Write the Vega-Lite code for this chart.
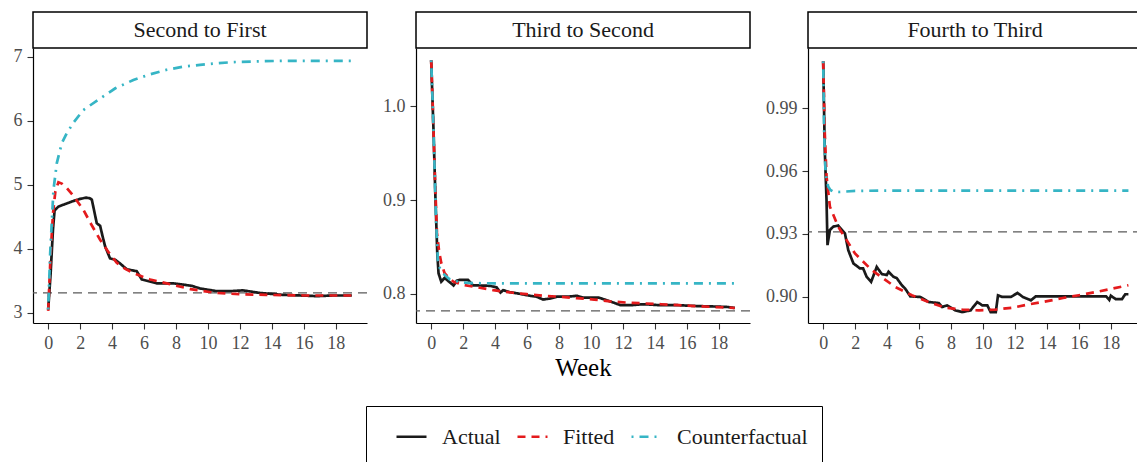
{
"$schema": "https://vega.github.io/schema/vega-lite/v6.json",
"padding": {"left": 13, "top": 11, "right": 0, "bottom": 0},
"config": {
  "font": "Liberation Serif",
  "view": {"stroke": null},
  "axis": {"grid": false, "domainColor": "black", "domainWidth": 1.2, "tickColor": "#333333", "tickSize": 6, "tickWidth": 1.1, "labelColor": "#4d4d4d", "labelFont": "Liberation Serif", "labelFontSize": 18, "labelPadding": 5, "titleFont": "Liberation Serif", "titleFontSize": 25, "titleColor": "black", "titleFontWeight": "normal", "titlePadding": 3},
  "legend": {"strokeColor": "black", "padding": 14, "labelFont": "Liberation Serif", "labelFontSize": 22, "labelColor": "#1a1a1a", "symbolType": "stroke", "symbolStrokeWidth": 2.5, "symbolSize": 900, "symbolOffset": 15, "columnPadding": 0, "labelOffset": 14},
  "concat": {"spacing": 14}
},
"datasets": {
  "strips": [{"panel": "Second to First"}, {"panel": "Third to Second"}, {"panel": "Fourth to Third"}],
  "hlines": [{"panel": "Second to First", "value": 3.31}, {"panel": "Third to Second", "value": 0.782}, {"panel": "Fourth to Third", "value": 0.931}],
  "lines": [
{"panel":"Second to First","series":"Actual","week":0,"value":3.05},
{"panel":"Second to First","series":"Actual","week":0.15,"value":3.6},
{"panel":"Second to First","series":"Actual","week":0.3,"value":4.3},
{"panel":"Second to First","series":"Actual","week":0.4,"value":4.6},
{"panel":"Second to First","series":"Actual","week":0.64,"value":4.66},
{"panel":"Second to First","series":"Actual","week":1.17,"value":4.71},
{"panel":"Second to First","series":"Actual","week":1.6,"value":4.75},
{"panel":"Second to First","series":"Actual","week":2.0,"value":4.78},
{"panel":"Second to First","series":"Actual","week":2.37,"value":4.8},
{"panel":"Second to First","series":"Actual","week":2.6,"value":4.79},
{"panel":"Second to First","series":"Actual","week":2.73,"value":4.77},
{"panel":"Second to First","series":"Actual","week":3.04,"value":4.4},
{"panel":"Second to First","series":"Actual","week":3.25,"value":4.36},
{"panel":"Second to First","series":"Actual","week":3.4,"value":4.2},
{"panel":"Second to First","series":"Actual","week":3.56,"value":4.04},
{"panel":"Second to First","series":"Actual","week":3.87,"value":3.85},
{"panel":"Second to First","series":"Actual","week":4.19,"value":3.83},
{"panel":"Second to First","series":"Actual","week":4.5,"value":3.77},
{"panel":"Second to First","series":"Actual","week":4.92,"value":3.68},
{"panel":"Second to First","series":"Actual","week":5.54,"value":3.65},
{"panel":"Second to First","series":"Actual","week":5.86,"value":3.52},
{"panel":"Second to First","series":"Actual","week":6.17,"value":3.5},
{"panel":"Second to First","series":"Actual","week":6.79,"value":3.46},
{"panel":"Second to First","series":"Actual","week":7.83,"value":3.46},
{"panel":"Second to First","series":"Actual","week":8.46,"value":3.44},
{"panel":"Second to First","series":"Actual","week":9.0,"value":3.42},
{"panel":"Second to First","series":"Actual","week":9.5,"value":3.38},
{"panel":"Second to First","series":"Actual","week":10.5,"value":3.34},
{"panel":"Second to First","series":"Actual","week":11.5,"value":3.34},
{"panel":"Second to First","series":"Actual","week":12.2,"value":3.35},
{"panel":"Second to First","series":"Actual","week":13.25,"value":3.31},
{"panel":"Second to First","series":"Actual","week":14.7,"value":3.28},
{"panel":"Second to First","series":"Actual","week":15.8,"value":3.27},
{"panel":"Second to First","series":"Actual","week":16.8,"value":3.26},
{"panel":"Second to First","series":"Actual","week":17.8,"value":3.27},
{"panel":"Second to First","series":"Actual","week":19,"value":3.27},
{"panel":"Second to First","series":"Fitted","week":0,"value":3.03},
{"panel":"Second to First","series":"Fitted","week":0.15,"value":3.9},
{"panel":"Second to First","series":"Fitted","week":0.3,"value":4.55},
{"panel":"Second to First","series":"Fitted","week":0.45,"value":4.9},
{"panel":"Second to First","series":"Fitted","week":0.64,"value":5.04},
{"panel":"Second to First","series":"Fitted","week":0.85,"value":5.02},
{"panel":"Second to First","series":"Fitted","week":1.17,"value":4.95},
{"panel":"Second to First","series":"Fitted","week":1.6,"value":4.82},
{"panel":"Second to First","series":"Fitted","week":2.2,"value":4.61},
{"panel":"Second to First","series":"Fitted","week":2.7,"value":4.38},
{"panel":"Second to First","series":"Fitted","week":3.25,"value":4.14},
{"panel":"Second to First","series":"Fitted","week":3.8,"value":3.94},
{"panel":"Second to First","series":"Fitted","week":4.29,"value":3.78},
{"panel":"Second to First","series":"Fitted","week":4.8,"value":3.69},
{"panel":"Second to First","series":"Fitted","week":5.33,"value":3.62},
{"panel":"Second to First","series":"Fitted","week":6.375,"value":3.52},
{"panel":"Second to First","series":"Fitted","week":7.42,"value":3.46},
{"panel":"Second to First","series":"Fitted","week":8.9,"value":3.37},
{"panel":"Second to First","series":"Fitted","week":10.5,"value":3.31},
{"panel":"Second to First","series":"Fitted","week":12,"value":3.29},
{"panel":"Second to First","series":"Fitted","week":13.6,"value":3.28},
{"panel":"Second to First","series":"Fitted","week":16,"value":3.27},
{"panel":"Second to First","series":"Fitted","week":19,"value":3.27},
{"panel":"Second to First","series":"Counterfactual","week":0,"value":3.05},
{"panel":"Second to First","series":"Counterfactual","week":0.125,"value":3.93},
{"panel":"Second to First","series":"Counterfactual","week":0.33,"value":4.92},
{"panel":"Second to First","series":"Counterfactual","week":0.54,"value":5.34},
{"panel":"Second to First","series":"Counterfactual","week":0.85,"value":5.65},
{"panel":"Second to First","series":"Counterfactual","week":1.17,"value":5.81},
{"panel":"Second to First","series":"Counterfactual","week":1.6,"value":5.98},
{"panel":"Second to First","series":"Counterfactual","week":2.2,"value":6.17},
{"panel":"Second to First","series":"Counterfactual","week":3.25,"value":6.35},
{"panel":"Second to First","series":"Counterfactual","week":4.2,"value":6.51},
{"panel":"Second to First","series":"Counterfactual","week":5.33,"value":6.64},
{"panel":"Second to First","series":"Counterfactual","week":6.4,"value":6.73},
{"panel":"Second to First","series":"Counterfactual","week":7.42,"value":6.8},
{"panel":"Second to First","series":"Counterfactual","week":8.5,"value":6.85},
{"panel":"Second to First","series":"Counterfactual","week":9.5,"value":6.875},
{"panel":"Second to First","series":"Counterfactual","week":10.5,"value":6.9},
{"panel":"Second to First","series":"Counterfactual","week":11.6,"value":6.92},
{"panel":"Second to First","series":"Counterfactual","week":13,"value":6.93},
{"panel":"Second to First","series":"Counterfactual","week":14.7,"value":6.94},
{"panel":"Second to First","series":"Counterfactual","week":17,"value":6.94},
{"panel":"Second to First","series":"Counterfactual","week":19,"value":6.94},
{"panel":"Third to Second","series":"Actual","week":0,"value":1.049},
{"panel":"Third to Second","series":"Actual","week":0.15,"value":0.972},
{"panel":"Third to Second","series":"Actual","week":0.27,"value":0.9},
{"panel":"Third to Second","series":"Actual","week":0.38,"value":0.844},
{"panel":"Third to Second","series":"Actual","week":0.46,"value":0.822},
{"panel":"Third to Second","series":"Actual","week":0.63,"value":0.813},
{"panel":"Third to Second","series":"Actual","week":0.84,"value":0.817},
{"panel":"Third to Second","series":"Actual","week":1.05,"value":0.814},
{"panel":"Third to Second","series":"Actual","week":1.4,"value":0.809},
{"panel":"Third to Second","series":"Actual","week":1.6,"value":0.814},
{"panel":"Third to Second","series":"Actual","week":1.78,"value":0.815},
{"panel":"Third to Second","series":"Actual","week":2.3,"value":0.815},
{"panel":"Third to Second","series":"Actual","week":2.62,"value":0.809},
{"panel":"Third to Second","series":"Actual","week":3.0,"value":0.809},
{"panel":"Third to Second","series":"Actual","week":3.67,"value":0.8086},
{"panel":"Third to Second","series":"Actual","week":4.09,"value":0.807},
{"panel":"Third to Second","series":"Actual","week":4.34,"value":0.8014},
{"panel":"Third to Second","series":"Actual","week":4.5,"value":0.804},
{"panel":"Third to Second","series":"Actual","week":4.9,"value":0.802},
{"panel":"Third to Second","series":"Actual","week":5.35,"value":0.8007},
{"panel":"Third to Second","series":"Actual","week":6.18,"value":0.798},
{"panel":"Third to Second","series":"Actual","week":6.6,"value":0.797},
{"panel":"Third to Second","series":"Actual","week":7.0,"value":0.794},
{"panel":"Third to Second","series":"Actual","week":7.4,"value":0.795},
{"panel":"Third to Second","series":"Actual","week":7.86,"value":0.797},
{"panel":"Third to Second","series":"Actual","week":8.5,"value":0.797},
{"panel":"Third to Second","series":"Actual","week":9.12,"value":0.798},
{"panel":"Third to Second","series":"Actual","week":9.5,"value":0.796},
{"panel":"Third to Second","series":"Actual","week":10.5,"value":0.796},
{"panel":"Third to Second","series":"Actual","week":11.2,"value":0.792},
{"panel":"Third to Second","series":"Actual","week":11.85,"value":0.788},
{"panel":"Third to Second","series":"Actual","week":12.5,"value":0.788},
{"panel":"Third to Second","series":"Actual","week":13.3,"value":0.789},
{"panel":"Third to Second","series":"Actual","week":14.3,"value":0.788},
{"panel":"Third to Second","series":"Actual","week":15.4,"value":0.788},
{"panel":"Third to Second","series":"Actual","week":16.7,"value":0.787},
{"panel":"Third to Second","series":"Actual","week":17.9,"value":0.7865},
{"panel":"Third to Second","series":"Actual","week":18.6,"value":0.786},
{"panel":"Third to Second","series":"Actual","week":19,"value":0.785},
{"panel":"Third to Second","series":"Fitted","week":0,"value":1.049},
{"panel":"Third to Second","series":"Fitted","week":0.1,"value":1.0},
{"panel":"Third to Second","series":"Fitted","week":0.21,"value":0.936},
{"panel":"Third to Second","series":"Fitted","week":0.36,"value":0.865},
{"panel":"Third to Second","series":"Fitted","week":0.5,"value":0.845},
{"panel":"Third to Second","series":"Fitted","week":0.63,"value":0.833},
{"panel":"Third to Second","series":"Fitted","week":0.84,"value":0.822},
{"panel":"Third to Second","series":"Fitted","week":1.1,"value":0.817},
{"panel":"Third to Second","series":"Fitted","week":1.4,"value":0.813},
{"panel":"Third to Second","series":"Fitted","week":2.0,"value":0.8097},
{"panel":"Third to Second","series":"Fitted","week":2.9,"value":0.807},
{"panel":"Third to Second","series":"Fitted","week":3.88,"value":0.804},
{"panel":"Third to Second","series":"Fitted","week":5.0,"value":0.8015},
{"panel":"Third to Second","series":"Fitted","week":5.97,"value":0.7997},
{"panel":"Third to Second","series":"Fitted","week":7.0,"value":0.798},
{"panel":"Third to Second","series":"Fitted","week":8.07,"value":0.797},
{"panel":"Third to Second","series":"Fitted","week":9.1,"value":0.7955},
{"panel":"Third to Second","series":"Fitted","week":10.2,"value":0.794},
{"panel":"Third to Second","series":"Fitted","week":11.2,"value":0.792},
{"panel":"Third to Second","series":"Fitted","week":12.3,"value":0.7907},
{"panel":"Third to Second","series":"Fitted","week":13.4,"value":0.7898},
{"panel":"Third to Second","series":"Fitted","week":14.4,"value":0.789},
{"panel":"Third to Second","series":"Fitted","week":15.5,"value":0.788},
{"panel":"Third to Second","series":"Fitted","week":16.5,"value":0.787},
{"panel":"Third to Second","series":"Fitted","week":17.8,"value":0.786},
{"panel":"Third to Second","series":"Fitted","week":19,"value":0.785},
{"panel":"Third to Second","series":"Counterfactual","week":0,"value":1.049},
{"panel":"Third to Second","series":"Counterfactual","week":0.1,"value":1.0},
{"panel":"Third to Second","series":"Counterfactual","week":0.21,"value":0.936},
{"panel":"Third to Second","series":"Counterfactual","week":0.3,"value":0.88},
{"panel":"Third to Second","series":"Counterfactual","week":0.42,"value":0.836},
{"panel":"Third to Second","series":"Counterfactual","week":0.55,"value":0.827},
{"panel":"Third to Second","series":"Counterfactual","week":0.73,"value":0.822},
{"panel":"Third to Second","series":"Counterfactual","week":1.15,"value":0.8157},
{"panel":"Third to Second","series":"Counterfactual","week":1.6,"value":0.8135},
{"panel":"Third to Second","series":"Counterfactual","week":2.0,"value":0.812},
{"panel":"Third to Second","series":"Counterfactual","week":2.8,"value":0.8114},
{"panel":"Third to Second","series":"Counterfactual","week":4,"value":0.8113},
{"panel":"Third to Second","series":"Counterfactual","week":6,"value":0.8112},
{"panel":"Third to Second","series":"Counterfactual","week":10,"value":0.8112},
{"panel":"Third to Second","series":"Counterfactual","week":14,"value":0.8112},
{"panel":"Third to Second","series":"Counterfactual","week":19,"value":0.8112},
{"panel":"Fourth to Third","series":"Actual","week":0,"value":1.0123},
{"panel":"Fourth to Third","series":"Actual","week":0.1,"value":0.97},
{"panel":"Fourth to Third","series":"Actual","week":0.21,"value":0.946},
{"panel":"Fourth to Third","series":"Actual","week":0.27,"value":0.9247},
{"panel":"Fourth to Third","series":"Actual","week":0.42,"value":0.9319},
{"panel":"Fourth to Third","series":"Actual","week":0.63,"value":0.9335},
{"panel":"Fourth to Third","series":"Actual","week":0.94,"value":0.934},
{"panel":"Fourth to Third","series":"Actual","week":1.36,"value":0.9303},
{"panel":"Fourth to Third","series":"Actual","week":1.57,"value":0.9223},
{"panel":"Fourth to Third","series":"Actual","week":1.89,"value":0.916},
{"panel":"Fourth to Third","series":"Actual","week":2.3,"value":0.9136},
{"panel":"Fourth to Third","series":"Actual","week":2.5,"value":0.9136},
{"panel":"Fourth to Third","series":"Actual","week":2.72,"value":0.9096},
{"panel":"Fourth to Third","series":"Actual","week":3.0,"value":0.9072},
{"panel":"Fourth to Third","series":"Actual","week":3.35,"value":0.9143},
{"panel":"Fourth to Third","series":"Actual","week":3.67,"value":0.9109},
{"panel":"Fourth to Third","series":"Actual","week":3.98,"value":0.9105},
{"panel":"Fourth to Third","series":"Actual","week":4.09,"value":0.912},
{"panel":"Fourth to Third","series":"Actual","week":4.4,"value":0.9096},
{"panel":"Fourth to Third","series":"Actual","week":4.6,"value":0.909},
{"panel":"Fourth to Third","series":"Actual","week":4.92,"value":0.9056},
{"panel":"Fourth to Third","series":"Actual","week":5.13,"value":0.904},
{"panel":"Fourth to Third","series":"Actual","week":5.45,"value":0.9003},
{"panel":"Fourth to Third","series":"Actual","week":6.08,"value":0.9},
{"panel":"Fourth to Third","series":"Actual","week":6.6,"value":0.8976},
{"panel":"Fourth to Third","series":"Actual","week":7.23,"value":0.8971},
{"panel":"Fourth to Third","series":"Actual","week":7.44,"value":0.8952},
{"panel":"Fourth to Third","series":"Actual","week":7.75,"value":0.896},
{"panel":"Fourth to Third","series":"Actual","week":8.28,"value":0.8936},
{"panel":"Fourth to Third","series":"Actual","week":8.7,"value":0.8928},
{"panel":"Fourth to Third","series":"Actual","week":9.22,"value":0.8936},
{"panel":"Fourth to Third","series":"Actual","week":9.64,"value":0.8976},
{"panel":"Fourth to Third","series":"Actual","week":9.96,"value":0.896},
{"panel":"Fourth to Third","series":"Actual","week":10.27,"value":0.896},
{"panel":"Fourth to Third","series":"Actual","week":10.48,"value":0.8928},
{"panel":"Fourth to Third","series":"Actual","week":10.8,"value":0.8928},
{"panel":"Fourth to Third","series":"Actual","week":10.94,"value":0.9008},
{"panel":"Fourth to Third","series":"Actual","week":11.2,"value":0.9},
{"panel":"Fourth to Third","series":"Actual","week":11.74,"value":0.9},
{"panel":"Fourth to Third","series":"Actual","week":12.16,"value":0.9019},
{"panel":"Fourth to Third","series":"Actual","week":12.5,"value":0.9},
{"panel":"Fourth to Third","series":"Actual","week":13.0,"value":0.8984},
{"panel":"Fourth to Third","series":"Actual","week":13.3,"value":0.9003},
{"panel":"Fourth to Third","series":"Actual","week":15,"value":0.9003},
{"panel":"Fourth to Third","series":"Actual","week":17.7,"value":0.9003},
{"panel":"Fourth to Third","series":"Actual","week":17.9,"value":0.8986},
{"panel":"Fourth to Third","series":"Actual","week":18.0,"value":0.9006},
{"panel":"Fourth to Third","series":"Actual","week":18.3,"value":0.899},
{"panel":"Fourth to Third","series":"Actual","week":18.7,"value":0.899},
{"panel":"Fourth to Third","series":"Actual","week":18.9,"value":0.9013},
{"panel":"Fourth to Third","series":"Actual","week":19.1,"value":0.9013},
{"panel":"Fourth to Third","series":"Fitted","week":0,"value":1.0123},
{"panel":"Fourth to Third","series":"Fitted","week":0.1,"value":0.978},
{"panel":"Fourth to Third","series":"Fitted","week":0.21,"value":0.9574},
{"panel":"Fourth to Third","series":"Fitted","week":0.42,"value":0.943},
{"panel":"Fourth to Third","series":"Fitted","week":0.94,"value":0.9335},
{"panel":"Fourth to Third","series":"Fitted","week":1.99,"value":0.9207},
{"panel":"Fourth to Third","series":"Fitted","week":3.04,"value":0.9128},
{"panel":"Fourth to Third","series":"Fitted","week":4.5,"value":0.9048},
{"panel":"Fourth to Third","series":"Fitted","week":5.55,"value":0.9008},
{"panel":"Fourth to Third","series":"Fitted","week":6.6,"value":0.8976},
{"panel":"Fourth to Third","series":"Fitted","week":7.65,"value":0.8949},
{"panel":"Fourth to Third","series":"Fitted","week":8.7,"value":0.894},
{"panel":"Fourth to Third","series":"Fitted","week":9.75,"value":0.8936},
{"panel":"Fourth to Third","series":"Fitted","week":10.8,"value":0.894},
{"panel":"Fourth to Third","series":"Fitted","week":11.85,"value":0.8949},
{"panel":"Fourth to Third","series":"Fitted","week":12.9,"value":0.8965},
{"panel":"Fourth to Third","series":"Fitted","week":13.94,"value":0.8979},
{"panel":"Fourth to Third","series":"Fitted","week":15,"value":0.8995},
{"panel":"Fourth to Third","series":"Fitted","week":16,"value":0.9008},
{"panel":"Fourth to Third","series":"Fitted","week":17.1,"value":0.9024},
{"panel":"Fourth to Third","series":"Fitted","week":18.1,"value":0.904},
{"panel":"Fourth to Third","series":"Fitted","week":19.1,"value":0.9056},
{"panel":"Fourth to Third","series":"Counterfactual","week":0,"value":1.0123},
{"panel":"Fourth to Third","series":"Counterfactual","week":0.06,"value":0.978},
{"panel":"Fourth to Third","series":"Counterfactual","week":0.15,"value":0.959},
{"panel":"Fourth to Third","series":"Counterfactual","week":0.31,"value":0.9526},
{"panel":"Fourth to Third","series":"Counterfactual","week":0.45,"value":0.951},
{"panel":"Fourth to Third","series":"Counterfactual","week":0.63,"value":0.9502},
{"panel":"Fourth to Third","series":"Counterfactual","week":1.0,"value":0.95},
{"panel":"Fourth to Third","series":"Counterfactual","week":1.36,"value":0.9502},
{"panel":"Fourth to Third","series":"Counterfactual","week":2,"value":0.9505},
{"panel":"Fourth to Third","series":"Counterfactual","week":4,"value":0.9507},
{"panel":"Fourth to Third","series":"Counterfactual","week":8,"value":0.9507},
{"panel":"Fourth to Third","series":"Counterfactual","week":12,"value":0.9507},
{"panel":"Fourth to Third","series":"Counterfactual","week":16,"value":0.9507},
{"panel":"Fourth to Third","series":"Counterfactual","week":19.1,"value":0.9507}
  ]
},
"hconcat": [
  {"bounds": "flush", "spacing": 0, "vconcat": [
    {"data": {"name": "strips"}, "transform": [{"filter": {"field": "panel", "equal": "Second to First"}}], "width": 334, "height": 36, "view": {"stroke": "black", "strokeWidth": 1.5}, "mark": {"type": "text", "fontSize": 22, "color": "#1a1a1a"}, "encoding": {"text": {"field": "panel", "type": "nominal"}}},
    {"width": 334, "height": 275, "layer": [
      {"data": {"name": "hlines"}, "transform": [{"filter": {"field": "panel", "equal": "Second to First"}}], "mark": {"type": "rule", "color": "#5a5a5a", "strokeDash": [9, 6], "strokeWidth": 1.3}, "encoding": {"y": {"field": "value", "type": "quantitative", "scale": {"domain": [2.84, 7.14], "nice": false, "zero": false}, "axis": {"values": [3, 4, 5, 6, 7], "format": "d", "title": null}}}},
      {"data": {"name": "lines"}, "transform": [{"filter": {"field": "panel", "equal": "Second to First"}}], "mark": {"type": "line", "strokeWidth": 2.7}, "encoding": {
        "x": {"field": "week", "type": "quantitative", "scale": {"domain": [-0.95, 19.95], "nice": false, "zero": false}, "axis": {"values": [0, 2, 4, 6, 8, 10, 12, 14, 16, 18], "title": null}},
        "y": {"field": "value", "type": "quantitative", "scale": {"domain": [2.84, 7.14], "nice": false, "zero": false}, "axis": {"values": [3, 4, 5, 6, 7], "format": "d", "title": null}},
        "color": {"field": "series", "type": "nominal", "scale": {"domain": ["Actual", "Fitted", "Counterfactual"], "range": ["#1a1a1a", "#e41a1c", "#36b5c5"]}, "legend": {"title": null, "orient": "none", "direction": "horizontal", "legendX": 333, "legendY": 394}},
        "strokeDash": {"field": "series", "type": "nominal", "scale": {"domain": ["Actual", "Fitted", "Counterfactual"], "range": [[1, 0], [8, 6], [2, 6, 9, 6]]}, "legend": {"title": null, "orient": "none", "direction": "horizontal", "legendX": 333, "legendY": 394}}
      }}
    ]}
  ]},
  {"bounds": "flush", "spacing": 0, "vconcat": [
    {"data": {"name": "strips"}, "transform": [{"filter": {"field": "panel", "equal": "Third to Second"}}], "width": 334, "height": 36, "view": {"stroke": "black", "strokeWidth": 1.5}, "mark": {"type": "text", "fontSize": 22, "color": "#1a1a1a"}, "encoding": {"text": {"field": "panel", "type": "nominal"}}},
    {"width": 334, "height": 275, "layer": [
      {"data": {"name": "hlines"}, "transform": [{"filter": {"field": "panel", "equal": "Third to Second"}}], "mark": {"type": "rule", "color": "#5a5a5a", "strokeDash": [9, 6], "strokeWidth": 1.3}, "encoding": {"y": {"field": "value", "type": "quantitative", "scale": {"domain": [0.769, 1.062], "nice": false, "zero": false}, "axis": {"values": [0.8, 0.9, 1.0], "format": ".1f", "title": null}}}},
      {"data": {"name": "lines"}, "transform": [{"filter": {"field": "panel", "equal": "Third to Second"}}], "mark": {"type": "line", "strokeWidth": 2.7}, "encoding": {
        "x": {"field": "week", "type": "quantitative", "scale": {"domain": [-0.95, 19.95], "nice": false, "zero": false}, "axis": {"values": [0, 2, 4, 6, 8, 10, 12, 14, 16, 18], "title": "Week"}},
        "y": {"field": "value", "type": "quantitative", "scale": {"domain": [0.769, 1.062], "nice": false, "zero": false}, "axis": {"values": [0.8, 0.9, 1.0], "format": ".1f", "title": null}},
        "color": {"field": "series", "type": "nominal", "scale": {"domain": ["Actual", "Fitted", "Counterfactual"], "range": ["#1a1a1a", "#e41a1c", "#36b5c5"]}, "legend": {"title": null, "orient": "none", "direction": "horizontal", "legendX": 333, "legendY": 394}},
        "strokeDash": {"field": "series", "type": "nominal", "scale": {"domain": ["Actual", "Fitted", "Counterfactual"], "range": [[1, 0], [8, 6], [2, 6, 9, 6]]}, "legend": {"title": null, "orient": "none", "direction": "horizontal", "legendX": 333, "legendY": 394}}
      }}
    ]}
  ]},
  {"bounds": "flush", "spacing": 0, "vconcat": [
    {"data": {"name": "strips"}, "transform": [{"filter": {"field": "panel", "equal": "Fourth to Third"}}], "width": 334, "height": 36, "view": {"stroke": "black", "strokeWidth": 1.5}, "mark": {"type": "text", "fontSize": 22, "color": "#1a1a1a"}, "encoding": {"text": {"field": "panel", "type": "nominal"}}},
    {"width": 334, "height": 275, "layer": [
      {"data": {"name": "hlines"}, "transform": [{"filter": {"field": "panel", "equal": "Fourth to Third"}}], "mark": {"type": "rule", "color": "#5a5a5a", "strokeDash": [9, 6], "strokeWidth": 1.3}, "encoding": {"y": {"field": "value", "type": "quantitative", "scale": {"domain": [0.8876, 1.0186], "nice": false, "zero": false}, "axis": {"values": [0.9, 0.93, 0.96, 0.99], "format": ".2f", "title": null}}}},
      {"data": {"name": "lines"}, "transform": [{"filter": {"field": "panel", "equal": "Fourth to Third"}}], "mark": {"type": "line", "strokeWidth": 2.7}, "encoding": {
        "x": {"field": "week", "type": "quantitative", "scale": {"domain": [-0.95, 19.95], "nice": false, "zero": false}, "axis": {"values": [0, 2, 4, 6, 8, 10, 12, 14, 16, 18], "title": null}},
        "y": {"field": "value", "type": "quantitative", "scale": {"domain": [0.8876, 1.0186], "nice": false, "zero": false}, "axis": {"values": [0.9, 0.93, 0.96, 0.99], "format": ".2f", "title": null}},
        "color": {"field": "series", "type": "nominal", "scale": {"domain": ["Actual", "Fitted", "Counterfactual"], "range": ["#1a1a1a", "#e41a1c", "#36b5c5"]}, "legend": {"title": null, "orient": "none", "direction": "horizontal", "legendX": 333, "legendY": 394}},
        "strokeDash": {"field": "series", "type": "nominal", "scale": {"domain": ["Actual", "Fitted", "Counterfactual"], "range": [[1, 0], [8, 6], [2, 6, 9, 6]]}, "legend": {"title": null, "orient": "none", "direction": "horizontal", "legendX": 333, "legendY": 394}}
      }}
    ]}
  ]}
],
"resolve": {"scale": {"color": "shared", "strokeDash": "shared"}}
}
